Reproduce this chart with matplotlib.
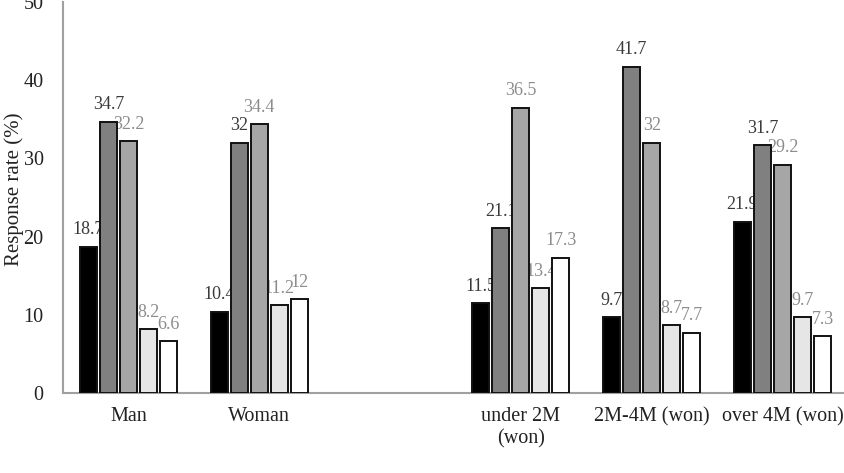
import matplotlib
matplotlib.use("Agg")
import matplotlib.pyplot as plt
import numpy as np

# categories (the empty slot is the gap between the two groups)
categories = ["Man", "Woman", "", "under 2M\n(won)", "2M-4M (won)", "over 4M (won)"]
group_idx = [0, 1, 3, 4, 5]

series_1 = [18.7, 10.4, 11.5, 9.7, 21.9]
series_2 = [34.7, 32, 21.1, 41.7, 31.7]
series_3 = [32.2, 34.4, 36.5, 32, 29.2]
series_4 = [8.2, 11.2, 13.4, 8.7, 9.7]
series_5 = [6.6, 12, 17.3, 7.7, 7.3]

y_ticks = [0, 10, 20, 30, 40, 50]

all_series = [series_1, series_2, series_3, series_4, series_5]
fills = ["#000000", "#808080", "#a6a6a6", "#e6e6e6", "#ffffff"]
label_colors = ["#3a3a3a", "#3a3a3a", "#8c8c8c", "#8c8c8c", "#8c8c8c"]

plt.rcParams["font.family"] = ["Liberation Serif", "DejaVu Serif"]

fig = plt.figure(figsize=(8.44, 4.73), dpi=100)
ax = fig.add_axes([0.0746, 0.169, 0.930, 0.827])

step = 0.153
width = 0.13
x = np.array(group_idx, dtype=float)
for i, (vals, fc, lc) in enumerate(zip(all_series, fills, label_colors)):
    pos = x + (i - 2) * step
    ax.bar(pos, vals, width=width, color=fc, edgecolor="#111111",
           linewidth=1.4, zorder=3)
    for px, v in zip(pos, vals):
        ax.annotate(f"{v:g}", (px, v), xytext=(0, 6), textcoords="offset points",
                    ha="center", va="bottom", fontsize=13, color=lc, zorder=2)

ax.set_xlim(-0.5, 5.5)
ax.set_ylim(0, 50)
ax.set_xticks(range(len(categories)))
ax.set_xticklabels(categories, fontsize=14.5, color="#222222")
ax.set_yticks(y_ticks)
ax.set_yticklabels([str(t) for t in y_ticks], fontsize=14.5, color="#222222")
ax.tick_params(axis="x", length=0, pad=10)
ax.tick_params(axis="y", length=0, pad=14)

for side in ["top", "right"]:
    ax.spines[side].set_visible(False)
for side in ["left", "bottom"]:
    ax.spines[side].set_color("#a0a0a0")
    ax.spines[side].set_linewidth(1.5)

ax.set_ylabel("Response rate (%)", fontsize=15, color="#222222", va="center")
ax.yaxis.set_label_coords(-0.062, 0.52)

fig.savefig("out.png", dpi=100)
